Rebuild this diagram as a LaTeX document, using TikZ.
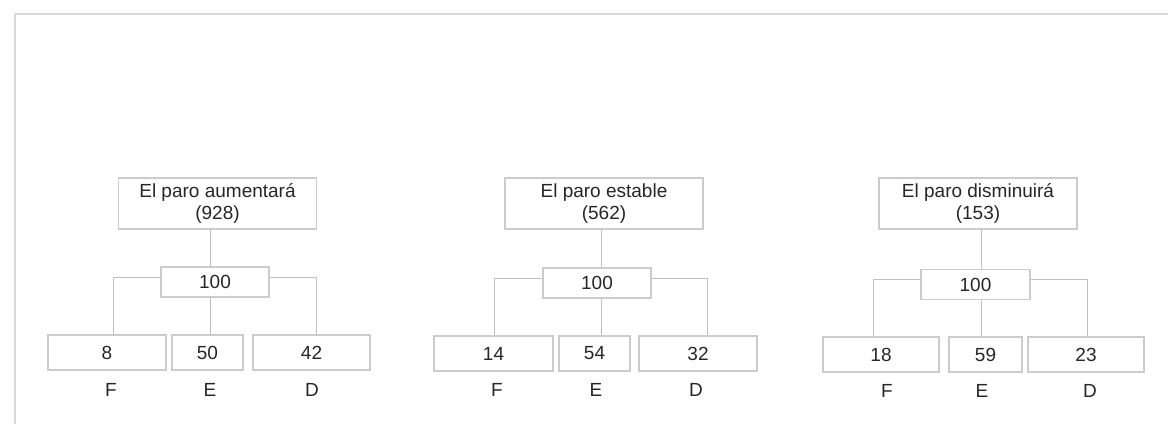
\documentclass[tikz,border=0pt]{standalone}
\usepackage{fontspec}
\setmainfont{Liberation Sans}
\begin{document}
\begin{tikzpicture}[x=1pt,y=-1pt,
  box/.style={draw=gray!40, line width=1.1pt, inner sep=0pt, text=black!85, font=\fontsize{19}{22}\selectfont, align=center},
  topbox/.style={box, minimum width=198pt, minimum height=51pt},
  hub/.style={box, minimum width=108pt, minimum height=30pt},
  leaf/.style={box, minimum height=35pt},
  lbl/.style={text=black!85, font=\fontsize{19}{22}\selectfont, inner sep=0pt},
  link/.style={draw=gray!50, line width=0.8pt},
  frame/.style={draw=gray!30, line width=1.2pt}]
\useasboundingbox (0,0) rectangle (1168,424);
% scanned page frame
\coordinate (f1) at (15,424);
\coordinate (f2) at (15,14);
\coordinate (f3) at (1168,14);
\draw[frame] (f1) -- (f2) -- (f3);

% ---------- group 1 ----------
\node[topbox] (T1) at (217.5,203.5) {El paro aumentará\\(928)};
\node[hub] (H1) at (215,282) {100};
\node[leaf, minimum width=118pt] (F1) at (107,352.5) {8};
\node[leaf, minimum width=71pt] (E1) at (207.5,352.5) {50};
\node[leaf, minimum width=117pt] (D1) at (311.5,352.5) {42};
\node[lbl] (LF1) at (111,390) {F};
\node[lbl] (LE1) at (210,390) {E};
\node[lbl] (LD1) at (312,390) {D};
\draw[link] ([xshift=-7.5pt]T1.south) -- ([xshift=-7.5pt]T1.south |- H1.north);
\draw[link] ([xshift=2.5pt]E1.north) -- ([xshift=2.5pt]E1.north |- H1.south);
\draw[link] ([yshift=5pt]H1.west) -| ([xshift=6pt]F1.north);
\draw[link] ([yshift=5pt]H1.east) -| ([xshift=4.5pt]D1.north);

% ---------- group 2 ----------
\node[topbox] (T2) at (604,203.5) {El paro estable\\(562)};
\node[hub] (H2) at (597,283) {100};
\node[leaf, minimum width=119pt] (F2) at (493.5,353.5) {14};
\node[leaf, minimum width=71pt] (E2) at (594.5,353.5) {54};
\node[leaf, minimum width=118pt] (D2) at (698,353.5) {32};
\node[lbl] (LF2) at (497,390) {F};
\node[lbl] (LE2) at (596,390) {E};
\node[lbl] (LD2) at (696,390) {D};
\draw[link] ([xshift=-3pt]T2.south) -- ([xshift=-3pt]T2.south |- H2.north);
\draw[link] ([xshift=6.5pt]E2.north) -- ([xshift=6.5pt]E2.north |- H2.south);
\draw[link] ([yshift=5pt]H2.west) -| ([xshift=0.5pt]F2.north);
\draw[link] ([yshift=5pt]H2.east) -| ([xshift=9pt]D2.north);

% ---------- group 3 ----------
\node[topbox] (T3) at (978,203.5) {El paro disminuirá\\(153)};
\node[hub, minimum width=109pt] (H3) at (975.5,284.5) {100};
\node[leaf, minimum width=116pt] (F3) at (881,354.5) {18};
\node[leaf, minimum width=73pt] (E3) at (985.5,354.5) {59};
\node[leaf, minimum width=116pt] (D3) at (1086,354.5) {23};
\node[lbl] (LF3) at (887,391) {F};
\node[lbl] (LE3) at (982,391) {E};
\node[lbl] (LD3) at (1090,391) {D};
\draw[link] ([xshift=3pt]T3.south) -- ([xshift=3pt]T3.south |- H3.north);
\draw[link] ([xshift=-4.5pt]E3.north) -- ([xshift=-4.5pt]E3.north |- H3.south);
\draw[link] ([yshift=5pt]H3.west) -| ([xshift=-8pt]F3.north);
\draw[link] ([yshift=5pt]H3.east) -| ([xshift=1pt]D3.north);
\end{tikzpicture}
\end{document}
